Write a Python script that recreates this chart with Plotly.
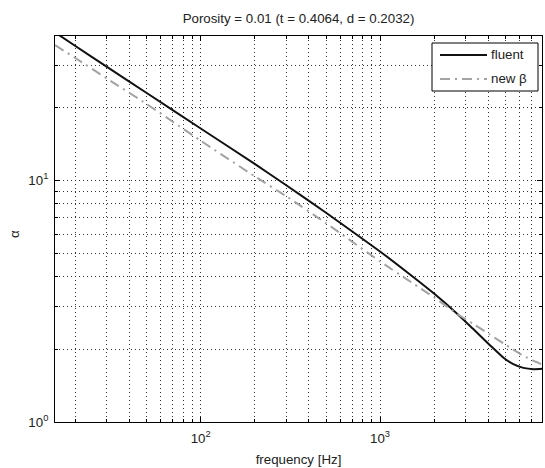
import math
import plotly.graph_objects as go

# ---- data ----
freq = [15.4, 20, 30, 50, 100, 200, 300, 500, 1000, 1500, 2000, 2700,
        3300, 4100, 4900, 5500, 6300, 7200, 8000]
alpha_fluent = [41.0, 36.0, 29.5, 23.0, 16.4, 11.7, 9.55, 7.35, 5.08, 4.03,
                3.40, 2.80, 2.43, 2.08, 1.84, 1.74, 1.675, 1.655, 1.66]
alpha_new_beta = [36.3, 32.1, 26.4, 20.7, 14.6, 10.4, 8.6, 6.65, 4.62, 3.78,
                  3.28, 2.80, 2.55, 2.30, 2.11, 2.00, 1.88, 1.79, 1.73]

series_names = ["fluent", "new \u03b2"]
title_text = "Porosity = 0.01 (t = 0.4064, d = 0.2032)"
x_label = "frequency [Hz]"
y_label = "\u03b1"

x_tick_vals = [100, 1000]
x_tick_text = ["10<sup>2</sup>", "10<sup>3</sup>"]
y_tick_vals = [1, 10]
y_tick_text = ["10<sup>0</sup>", "10<sup>1</sup>"]

mantissas = [2, 3, 4, 5, 6, 7, 8, 9]
x_minor = [m * d for d in (10, 100, 1000) for m in mantissas]
y_minor = [m * d for d in (1, 10) for m in mantissas]

x_range = [15.4, 8000]
y_range = [1, 39.6]

# ---- layout geometry (pixels) ----
W, H = 545, 468
L, R, T, B = 55, 542, 36, 422
FS = 13.3
font_family = "Liberation Sans, Arial, sans-serif"
txt_color = "#222222"
colors = ["#111111", "#a3a3a3"]
dashes = ["solid", "10px,5px,2px,5px"]


def px_x(px):
    return (px - L) / (R - L)


def px_y(py):
    return (B - py) / (B - T)


fig = go.Figure()
for name, vals, c, d in zip(series_names, [alpha_fluent, alpha_new_beta],
                            colors, dashes):
    fig.add_trace(go.Scatter(
        x=freq, y=vals, name=name, mode="lines", showlegend=False,
        line=dict(color=c, width=2, dash=d, shape="spline", smoothing=0.5),
    ))

grid_style = dict(showgrid=True, gridcolor="#333333", gridwidth=1,
                  griddash="1px,3px")

fig.update_xaxes(
    type="log",
    range=[math.log10(x_range[0]), math.log10(x_range[1])],
    tickvals=x_tick_vals, ticktext=x_tick_text,
    ticks="inside", ticklen=5, tickcolor="black",
    showline=True, linecolor="black", linewidth=1, mirror="allticks",
    minor=dict(tickvals=x_minor, ticks="inside", ticklen=3, tickcolor="black",
               **grid_style),
    title=dict(text=x_label, font=dict(size=FS, color=txt_color), standoff=9),
    tickfont=dict(size=FS, color=txt_color),
    ticklabelstandoff=4,
    zeroline=False,
    **grid_style,
)
fig.update_yaxes(
    type="log",
    range=[math.log10(y_range[0]), math.log10(y_range[1])],
    tickvals=y_tick_vals, ticktext=y_tick_text,
    ticks="inside", ticklen=5, tickcolor="black",
    showline=True, linecolor="black", linewidth=1, mirror="allticks",
    minor=dict(tickvals=y_minor, ticks="inside", ticklen=3, tickcolor="black",
               **grid_style),
    tickfont=dict(size=FS, color=txt_color),
    ticklabelstandoff=3,
    zeroline=False,
    **grid_style,
)

# ---- legend box (drawn like MATLAB's) ----
leg_x0, leg_x1, leg_y0, leg_y1 = 432, 538, 43, 91
row_y = [55, 79]
line_x0, line_x1, text_x = 440, 487, 489

shapes = [dict(type="rect", xref="paper", yref="paper",
               x0=px_x(leg_x0), x1=px_x(leg_x1),
               y0=px_y(leg_y1), y1=px_y(leg_y0),
               line=dict(color="black", width=1), fillcolor="white",
               layer="above")]
annotations = [dict(text=y_label, xref="paper", yref="paper",
                    x=px_x(14), y=px_y(234), xanchor="center",
                    yanchor="middle", textangle=-90, showarrow=False,
                    font=dict(size=FS, color=txt_color))]
for name, c, d, ry in zip(series_names, colors, dashes, row_y):
    shapes.append(dict(type="line", xref="paper", yref="paper",
                       x0=px_x(line_x0), x1=px_x(line_x1),
                       y0=px_y(ry), y1=px_y(ry),
                       line=dict(color=c, width=2, dash=d), layer="above"))
    annotations.append(dict(text=name, xref="paper", yref="paper",
                            x=px_x(text_x), y=px_y(ry), xanchor="left",
                            yanchor="middle", showarrow=False,
                            font=dict(size=FS, color=txt_color)))

fig.update_layout(
    width=W, height=H,
    margin=dict(l=L, r=W - R, t=T, b=H - B),
    paper_bgcolor="white", plot_bgcolor="white",
    font=dict(family=font_family, size=FS, color=txt_color),
    title=dict(text=title_text, x=(L + R) / 2 / W, xanchor="center",
               y=1 - 18 / H, yanchor="middle", yref="container",
               font=dict(size=FS, color=txt_color)),
    shapes=shapes,
    annotations=annotations,
    showlegend=False,
)

fig.write_html("out.html")
